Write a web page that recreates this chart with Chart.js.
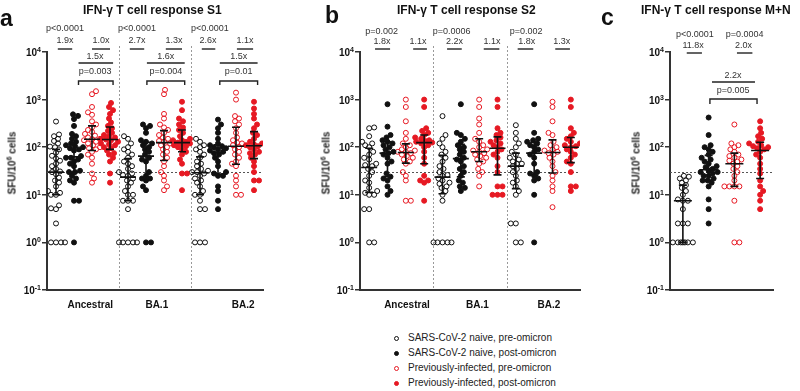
<!DOCTYPE html>
<html><head><meta charset="utf-8">
<script src="https://cdn.jsdelivr.net/npm/chart.js@4.4.1/dist/chart.umd.min.js"></script>
<style>
body{margin:0;background:#fff;width:800px;height:391px;overflow:hidden;position:relative;font-family:"Liberation Sans",Arial,Helvetica,sans-serif;color:#222;}
canvas{position:absolute;top:0;}
.ttl{position:absolute;font-weight:bold;font-size:12px;line-height:12px;white-space:nowrap;color:#111;}
.let{position:absolute;font-weight:bold;font-size:23px;line-height:23px;color:#111;}
.yt{position:absolute;font-weight:bold;font-size:10px;line-height:10px;white-space:nowrap;transform:translate(-50%,-50%) rotate(-90deg);color:#222;}
.yt span{font-size:7px;position:relative;top:-4px;}
.lg{position:absolute;left:408px;font-size:10px;line-height:10px;white-space:nowrap;color:#222;}
.mk{position:absolute;width:3px;height:3px;border-radius:50%;}
</style></head><body>
<canvas id="ca" width="270" height="320" style="left:0"></canvas>
<canvas id="cb" width="290" height="320" style="left:300px"></canvas>
<canvas id="cc" width="210" height="320" style="left:590px"></canvas>

<div class="let" style="left:0px;top:7px">a</div>
<div class="let" style="left:325px;top:4px">b</div>
<div class="let" style="left:601px;top:6px">c</div>
<div class="ttl" style="left:83px;top:4px">IFN-γ T cell response S1</div>
<div class="ttl" style="left:397px;top:4px">IFN-γ T cell response S2</div>
<div class="ttl" style="left:641px;top:4px">IFN-γ T cell response M+N</div>
<div class="yt" style="left:13px;top:163px">SFU/10<span>6</span> cells</div>
<div class="yt" style="left:327px;top:163px">SFU/10<span>6</span> cells</div>
<div class="yt" style="left:637px;top:163px">SFU/10<span>6</span> cells</div>

<div class="mk" style="left:394px;top:336px;border:1px solid #111;"></div>
<div class="lg" style="top:333px">SARS-CoV-2 naive, pre-omicron</div>
<div class="mk" style="left:394px;top:351px;border:1px solid #111;background:#111"></div>
<div class="lg" style="top:348px">SARS-CoV-2 naive, post-omicron</div>
<div class="mk" style="left:394px;top:366px;border:1px solid rgb(230,25,35);"></div>
<div class="lg" style="top:363px">Previously-infected, pre-omicron</div>
<div class="mk" style="left:394px;top:381px;border:1px solid rgb(230,25,35);background:rgb(230,25,35)"></div>
<div class="lg" style="top:378px">Previously-infected, post-omicron</div>

<script>
// ---------------- DATA (SFU / 10^6 cells) ----------------
const categories = ['Ancestral', 'BA.1', 'BA.2'];
const seriesNames = ['SARS-CoV-2 naive, pre-omicron','SARS-CoV-2 naive, post-omicron','Previously-infected, pre-omicron','Previously-infected, post-omicron'];
const yTickValues = [0.1, 1, 10, 100, 1000, 10000];
const yTickExps = ['-1', '0', '1', '2', '3', '4'];
const threshold = 30;

// Panel a: S1
const s1AncNaivePre  = [1,1,1,1,2.5,5,5.2,6,10,10,11,12,15,18,20,23,27,30,31,35,40,45,52,58,66,77,90,100,103,120,135,150,170,185,346];
const s1AncNaivePost = [1,7.5,7.5,18,20,22,25,30,30,32,40,45,50,55,60,60,65,85,90,95,100,105,110,120,130,150,170,190,280,390,455,490];
const s1AncPIPre     = [18,22,28,45,60,70,80,90,95,100,110,120,130,140,147,150,160,175,190,210,230,260,300,350,480,540,700,1300,1500];
const s1AncPIPost    = [18,28,50,60,70,75,85,95,100,110,115,120,130,140,145,150,160,170,180,200,220,250,280,330,400,500,600,700,850];
const s1BA1NaivePre  = [1,1,1,1,1,5,7.5,7.5,7.5,10,10,12,15,18,20,22,25,26,28,30,35,40,45,50,60,70,80,90,100,120,150,170];
const s1BA1NaivePost = [1,1,12.5,15,20,22,22,25,30,50,55,60,70,80,90,100,110,120,130,140,200,250,280,300];
const s1BA1PIPre     = [12.5,15,20,25,30,40,50,60,70,80,90,100,110,120,130,135,140,150,160,180,200,230,260,300,400,500,1300,1600];
const s1BA1PIPost    = [12.5,28,28,45,55,70,80,90,100,105,110,115,120,125,130,135,140,150,170,200,230,260,300,350,400,600,900];
const s1BA2NaivePre  = [1,1,1,5,5,7.5,10,10,12,15,18,20,22,25,28,30,30,32,35,40,45,50,60,70,80,90,100,110,130,150];
const s1BA2NaivePost = [5,7.5,12,15,25,25,28,30,40,50,60,70,75,80,85,90,95,100,105,110,120,150,200,250,300,380];
const s1BA2PIPre     = [10,10,15,20,25,40,45,50,60,70,80,90,100,110,120,125,140,160,200,250,300,350,400,450,1000,1400];
const s1BA2PIPost    = [12.5,20,20,30,40,50,60,70,75,80,90,100,105,110,115,120,130,150,180,200,250,300,400,500,650,900];

// Panel b: S2
const s2AncNaivePre  = [1,1,5,5,10,10,11,12,14,18,20,25,30,35,40,42,45,55,60,70,80,100,110,120,130,170,250,260];
const s2AncNaivePost = [10,12,15,20,22,24,28,45,50,60,70,75,80,90,100,110,120,130,140,160,180,270,800];
const s2AncPIPre     = [7.5,7.5,20,25,30,45,50,55,60,65,70,75,80,80,85,90,100,110,120,150,200,350,700,1000];
const s2AncPIPost    = [7.5,18,20,20,25,45,60,80,100,110,120,125,130,135,140,150,160,180,200,220,250,700,1000];
const s2BA1NaivePre  = [1,1,1,1,1,7.5,10,12,14,15,17,18,20,22,25,26,30,35,40,50,60,70,80,100,120,150,180,450];
const s2BA1NaivePost = [12,14,15,18,20,25,30,35,40,50,55,60,70,80,90,100,110,130,150,180,200,800];
const s2BA1PIPre     = [15,25,30,35,45,50,55,60,65,70,75,80,85,90,100,110,130,150,200,300,400,700,1000];
const s2BA1PIPost    = [10,10,10,15,15,30,40,60,70,80,90,100,110,120,130,140,160,180,200,250,700,1000];
const s2BA2NaivePre  = [1,1,2.5,2.5,10,12,15,18,20,25,30,35,40,45,45,50,55,60,70,80,100,120,150,200,290];
const s2BA2NaivePost = [1,10,20,22,25,28,30,45,60,70,80,90,100,110,120,130,140,150,200,800];
const s2BA2PIPre     = [5.5,12,15,20,25,30,40,50,60,70,75,80,85,90,100,110,130,180,200,350,700,900];
const s2BA2PIPost    = [12,15,15,30,45,50,60,70,80,90,100,105,110,120,130,150,170,200,250,700,1000];

// Panel c: M+N
const mnNaivePre  = [1,1,1,1,1,1,1,2.5,2.5,2.5,5,7.5,7.5,8,10,12,14,16,18,20,22,24,25];
const mnNaivePost = [2.5,5,8,15,18,20,20,22,25,25,28,30,30,32,35,38,40,45,50,55,60,70,80,90,100,110,180,420];
const mnPIPre     = [1,1,7.5,15,15,15,15,20,25,30,35,40,45,50,52,55,60,65,70,80,90,100,110,120,300];
const mnPIPost    = [5,7.5,10,12,15,20,28,35,45,60,70,80,90,95,100,105,110,120,130,150,170,200,250,350];

// Statistical annotations (text labels)
const annA = [
  {t:'text',u:1.0,dy:-23,s:'p<0.0001'},{t:'text',u:1.0,dy:-11,s:'1.9x'},{t:'bar',u1:0.6,u2:1.4,dy:-3},
  {t:'text',u:3.0,dy:-11,s:'1.0x'},{t:'bar',u1:2.5,u2:3.5,dy:-3},
  {t:'text',u:2.67,dy:5,s:'1.5x'},{t:'bar',u1:1.75,u2:3.67,dy:11},
  {t:'text',u:2.67,dy:20,s:'p=0.003'},{t:'brk',u1:1.75,u2:3.67,dy:29,h:4},
  {t:'text',u:5.0,dy:-23,s:'p<0.0001'},{t:'text',u:5.0,dy:-11,s:'2.7x'},{t:'bar',u1:4.6,u2:5.4,dy:-3},
  {t:'text',u:7.05,dy:-11,s:'1.3x'},{t:'bar',u1:6.6,u2:7.5,dy:-3},
  {t:'text',u:6.6,dy:5,s:'1.6x'},{t:'bar',u1:5.55,u2:7.65,dy:11},
  {t:'text',u:6.6,dy:20,s:'p=0.004'},{t:'brk',u1:5.55,u2:7.65,dy:29,h:4},
  {t:'text',u:9.05,dy:-23,s:'p<0.0001'},{t:'text',u:8.95,dy:-11,s:'2.6x'},{t:'bar',u1:8.6,u2:9.35,dy:-3},
  {t:'text',u:11.0,dy:-11,s:'1.1x'},{t:'bar',u1:10.55,u2:11.45,dy:-3},
  {t:'text',u:10.65,dy:5,s:'1.5x'},{t:'bar',u1:9.6,u2:11.7,dy:11},
  {t:'text',u:10.65,dy:20,s:'p=0.01'},{t:'brk',u1:9.6,u2:11.7,dy:29,h:4}
];
const annB = [
  {t:'text',u:1.18,dy:-20,s:'p=0.002'},{t:'text',u:1.2,dy:-10,s:'1.8x'},{t:'bar',u1:0.82,u2:1.64,dy:-3},
  {t:'text',u:3.17,dy:-10,s:'1.1x'},{t:'bar',u1:2.9,u2:3.65,dy:-3},
  {t:'text',u:5.0,dy:-20,s:'p=0.0006'},{t:'text',u:5.15,dy:-10,s:'2.2x'},{t:'bar',u1:4.75,u2:5.55,dy:-3},
  {t:'text',u:7.2,dy:-10,s:'1.1x'},{t:'bar',u1:6.75,u2:7.6,dy:-3},
  {t:'text',u:9.06,dy:-20,s:'p=0.002'},{t:'text',u:9.1,dy:-10,s:'1.8x'},{t:'bar',u1:8.6,u2:9.45,dy:-3},
  {t:'text',u:11.0,dy:-10,s:'1.3x'},{t:'bar',u1:10.65,u2:11.45,dy:-3}
];
const annC = [
  {t:'text',u:0.97,dy:-17,s:'p<0.0001'},{t:'text',u:0.9,dy:-6,s:'11.8x'},{t:'bar',u1:0.65,u2:1.24,dy:1},
  {t:'text',u:2.9,dy:-17,s:'p=0.0004'},{t:'text',u:2.85,dy:-6,s:'2.0x'},{t:'bar',u1:2.6,u2:3.2,dy:1},
  {t:'text',u:2.45,dy:24,s:'2.2x'},{t:'bar',u1:1.63,u2:3.3,dy:30},
  {t:'text',u:2.45,dy:39,s:'p=0.005'},{t:'brk',u1:1.55,u2:3.38,dy:47,h:5}
];

// ---------------- RENDERING ----------------
const RED = 'rgb(230,25,35)';
const STY = [
  {bg:'rgba(0,0,0,0)', bd:'#111'},
  {bg:'#111', bd:'#111'},
  {bg:'rgba(0,0,0,0)', bd:RED},
  {bg:RED, bd:RED}
];
const FONT = '"Liberation Sans", Arial, Helvetica, sans-serif';

function quant(arr, p){
  const s=[...arr].sort((a,b)=>a-b), n=s.length;
  let pos=(n+1)*p-1; if(pos<0)pos=0; if(pos>n-1)pos=n-1;
  const lo=Math.floor(pos), hi=Math.ceil(pos);
  return s[lo]+(s[hi]-s[lo])*(pos-lo);
}

function panelPlugin(P){
  return {
    id:'deco',
    beforeDatasetsDraw(chart){
      const ctx=chart.ctx, a=chart.chartArea, xs=chart.scales.x, ys=chart.scales.y;
      ctx.save();
      ctx.strokeStyle='#999'; ctx.lineWidth=1; ctx.setLineDash([2,2]);
      (P.sep||[]).forEach(u=>{
        const x=Math.round(xs.getPixelForValue(u))+0.5;
        ctx.beginPath(); ctx.moveTo(x,a.top-6); ctx.lineTo(x,a.bottom); ctx.stroke();
      });
      ctx.strokeStyle='#555';
      const ty=Math.round(ys.getPixelForValue(threshold))+0.5;
      ctx.beginPath(); ctx.moveTo(a.left,ty); ctx.lineTo(a.right,ty); ctx.stroke();
      ctx.restore();
    },
    afterDatasetsDraw(chart){
      const ctx=chart.ctx, a=chart.chartArea, xs=chart.scales.x, ys=chart.scales.y;
      ctx.save();
      // median + IQR
      ctx.strokeStyle='#111'; ctx.lineWidth=1.6;
      chart.data.datasets.forEach(ds=>{
        const cx=xs.getPixelForValue(ds.slot+0.5);
        const m=ys.getPixelForValue(quant(ds.values,0.5));
        const q1=ys.getPixelForValue(quant(ds.values,0.25));
        const q3=ys.getPixelForValue(quant(ds.values,0.75));
        ctx.beginPath();
        ctx.moveTo(cx-P.medHalf,m); ctx.lineTo(cx+P.medHalf,m);
        ctx.moveTo(cx,q1); ctx.lineTo(cx,q3);
        ctx.moveTo(cx-P.capHalf,q1); ctx.lineTo(cx+P.capHalf,q1);
        ctx.moveTo(cx-P.capHalf,q3); ctx.lineTo(cx+P.capHalf,q3);
        ctx.stroke();
      });
      // y tick labels 10^n
      ctx.fillStyle='#111'; ctx.textBaseline='alphabetic';
      yTickValues.forEach((v,i)=>{
        const y=ys.getPixelForValue(v);
        ctx.font='bold 7px '+FONT;
        const e=yTickExps[i], ew=ctx.measureText(e).width;
        const ex=a.left-6;
        ctx.textAlign='right'; ctx.fillText(e,ex,y);
        ctx.font='bold 10px '+FONT;
        ctx.fillText('10',ex-ew,y+4);
      });
      // group labels
      ctx.font='bold 10px '+FONT; ctx.textAlign='center'; ctx.textBaseline='middle';
      (P.groups||[]).forEach((g,i)=>{
        ctx.fillText(g, xs.getPixelForValue(P.groupPos[i]), a.bottom+15);
      });
      // annotations
      ctx.strokeStyle='#222'; ctx.lineWidth=1.4; ctx.fillStyle='#333';
      ctx.font='9px '+FONT; ctx.textAlign='center'; ctx.textBaseline='middle';
      P.ann.forEach(o=>{
        const y=a.top+o.dy;
        if(o.t==='text'){ ctx.fillText(o.s, xs.getPixelForValue(o.u), y); }
        else if(o.t==='bar'){
          ctx.beginPath(); ctx.moveTo(xs.getPixelForValue(o.u1),y); ctx.lineTo(xs.getPixelForValue(o.u2),y); ctx.stroke();
        } else {
          const x1=xs.getPixelForValue(o.u1), x2=xs.getPixelForValue(o.u2);
          ctx.beginPath(); ctx.moveTo(x1,y+o.h); ctx.lineTo(x1,y); ctx.lineTo(x2,y); ctx.lineTo(x2,y+o.h); ctx.stroke();
        }
      });
      ctx.restore();
    }
  };
}

function swarm(chart, minDist, maxOff){
  const xs=chart.scales.x, ys=chart.scales.y;
  chart.data.datasets.forEach(ds=>{
    const cx=xs.getPixelForValue(ds.slot+0.5);
    const idx=ds.data.map((p,i)=>i).sort((p,q)=>ds.data[p].y-ds.data[q].y);
    const placed=[];
    let flip=1;
    idx.forEach(i=>{
      const py=ys.getPixelForValue(ds.data[i].y);
      const near=placed.filter(q=>Math.abs(q.y-py)<minDist);
      let best=0, bestScore=-1;
      for(let k=0;k<200;k++){
        const off=k===0?0:flip*((k%2)?1:-1)*Math.ceil(k/2)*1.0;
        if(Math.abs(off)>maxOff) break;
        let md=Infinity;
        near.forEach(q=>{const d=Math.hypot(q.x-off,q.y-py); if(d<md)md=d;});
        if(md>=minDist){best=off;bestScore=Infinity;break;}
        if(md>bestScore){bestScore=md;best=off;}
      }
      if(best!==0) flip=-flip;
      placed.push({x:best,y:py});
      ds.data[i].x=xs.getValueForPixel(cx+best);
    });
  });
  chart.update('none');
}

function makePanel(id, series, nSlots, yWidth, padRight, P){
  const datasets=series.map((vals,i)=>{
    const st=STY[i%4];
    return {
      label: seriesNames[i%4], slot:i, values:vals,
      data: vals.map(v=>({x:i+0.5,y:v})),
      showLine:false, pointRadius:2.5, pointHoverRadius:2.5, pointBorderWidth:1,
      pointBackgroundColor:st.bg, pointBorderColor:st.bd
    };
  });
  const chart=new Chart(document.getElementById(id),{
    type:'scatter',
    data:{datasets},
    options:{
      responsive:false, animation:false, events:[],
      layout:{padding:{top:52,left:0,right:padRight,bottom:0}},
      plugins:{legend:{display:false},tooltip:{enabled:false},title:{display:false}},
      scales:{
        x:{type:'linear',min:0,max:nSlots,
           grid:{display:false},ticks:{display:false},
           border:{display:true,width:2,color:'#333'},
           afterFit(s){s.height=30;}},
        y:{type:'logarithmic',min:0.1,max:10000,
           afterBuildTicks(s){s.ticks=yTickValues.map(v=>({value:v}));},
           ticks:{callback:()=>'',padding:0},
           grid:{display:true,drawOnChartArea:false,drawTicks:true,tickLength:5,color:'#333',lineWidth:1.5},
           border:{display:true,width:2,color:'#333'},
           afterFit(s){s.width=yWidth;}}
      }
    },
    plugins:[panelPlugin(P)]
  });
  return chart;
}

const chA=makePanel('ca',[
  s1AncNaivePre,s1AncNaivePost,s1AncPIPre,s1AncPIPost,
  s1BA1NaivePre,s1BA1NaivePost,s1BA1PIPre,s1BA1PIPost,
  s1BA2NaivePre,s1BA2NaivePost,s1BA2PIPre,s1BA2PIPost],12,47,7,
  {sep:[4,8],groups:categories,groupPos:[2.4,6.1,10.9],ann:annA,medHalf:8,capHalf:4});
const chB=makePanel('cb',[
  s2AncNaivePre,s2AncNaivePost,s2AncPIPre,s2AncPIPost,
  s2BA1NaivePre,s2BA1NaivePost,s2BA1PIPre,s2BA1PIPost,
  s2BA2NaivePre,s2BA2NaivePost,s2BA2PIPre,s2BA2PIPost],12,60,10,
  {sep:[4,8],groups:categories,groupPos:[2.56,6.4,10.3],ann:annB,medHalf:8,capHalf:4});
const chC=makePanel('cc',[mnNaivePre,mnNaivePost,mnPIPre,mnPIPost],4,80,27,
  {sep:[],groups:[],groupPos:[],ann:annC,medHalf:9,capHalf:4});

swarm(chA,4.4,9);
swarm(chB,4.4,9);
swarm(chC,4.4,12);
</script>
</body></html>
